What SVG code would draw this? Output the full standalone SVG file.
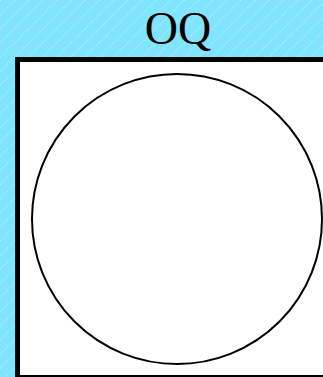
<svg xmlns="http://www.w3.org/2000/svg" width="323" height="377" viewBox="0 0 323 377">
<defs>
<pattern id="hatch" width="10" height="10" patternUnits="userSpaceOnUse" patternTransform="rotate(45)">
<rect width="10" height="10" fill="#80e4ff"/>
<line x1="0" y1="0" x2="0" y2="10" stroke="#ffffff" stroke-width="1" stroke-dasharray="1.5 1.5" opacity="0.7"/>
</pattern>
<style>
.title{font-family:"Liberation Serif","DejaVu Serif",serif;font-size:46px;fill:#000;text-anchor:middle}
.box{fill:#fff;stroke:#000;stroke-width:5}
.circ{fill:#fff;stroke:#000;stroke-width:2}
</style>
</defs>
<rect width="323" height="377" fill="url(#hatch)"/>
<g id="OQ">
<text class="title" x="178" y="44">OQ</text>
<rect class="box" x="17.5" y="59.5" width="320" height="318"/>
</g>
<g id="circle">
<circle class="circ" cx="177" cy="219" r="145"/>
</g>
<g id="connectors"/>
</svg>
